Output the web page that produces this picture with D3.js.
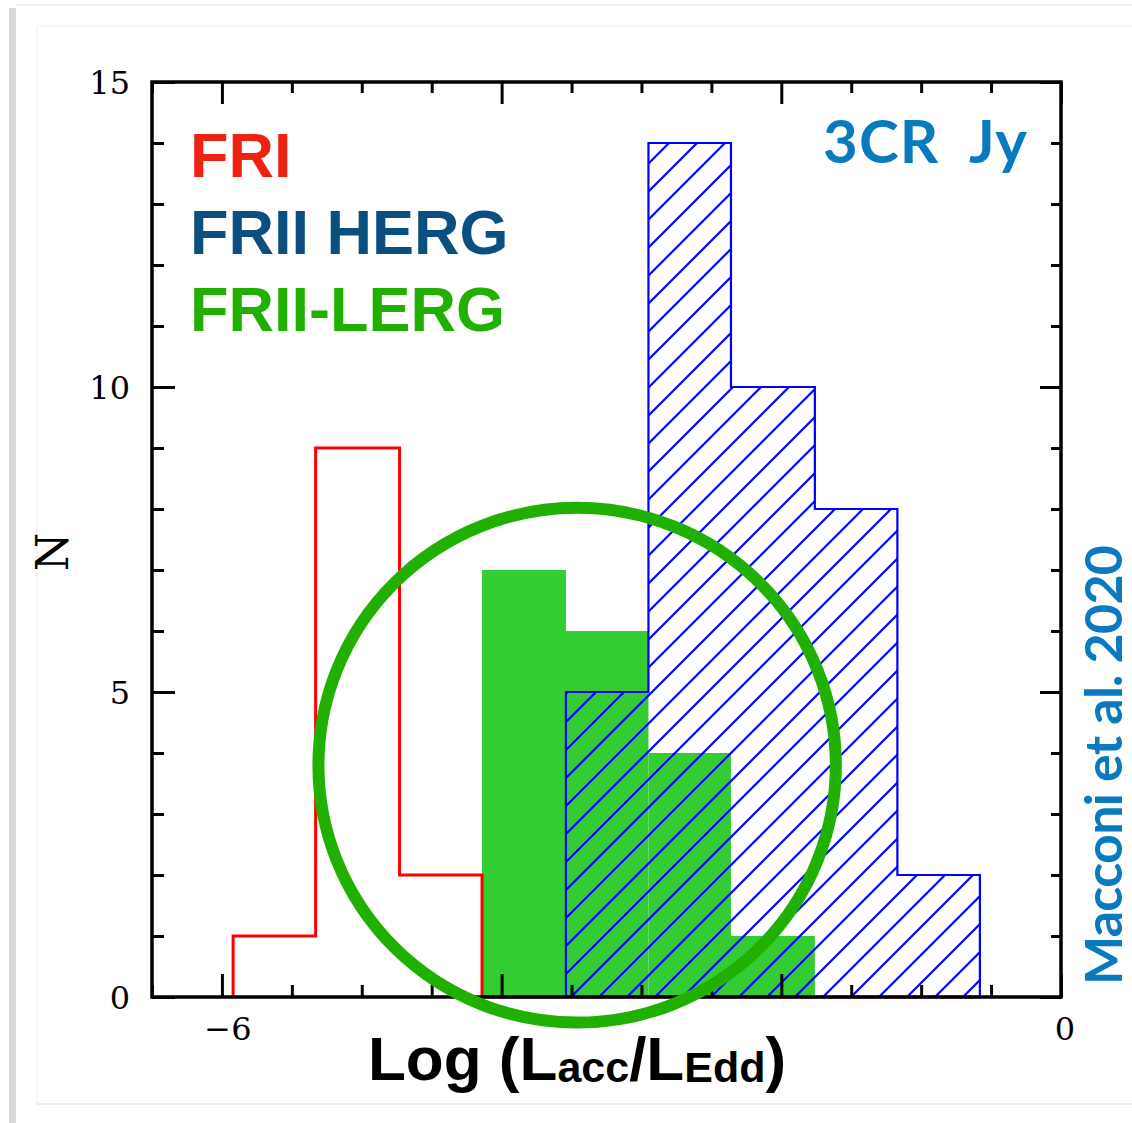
<!DOCTYPE html>
<html>
<head>
<meta charset="utf-8">
<script src="https://cdn.jsdelivr.net/npm/d3@7"></script>
<style>
  html, body { margin: 0; padding: 0; background: #fff; }
  svg { display: block; }
</style>
</head>
<body>
<div class="graph"></div>
<script>
// bin edges in Log(Lacc/LEdd)
var binEdges = [-5.92, -5.33, -4.73, -4.14, -3.54, -2.95, -2.36, -1.76, -1.17, -0.58];

// counts per bin
var friCounts  = [1, 9, 2, 0, 0, 0, 0, 0, 0];
var lergCounts = [0, 0, 0, 7, 6, 4, 1, 0, 0];
var hergCounts = [0, 0, 0, 0, 5, 14, 10, 8, 2];

var xLabels = [-6, 0];
var yLabels = [0, 5, 10, 15];
var legendNames = ['FRI', 'FRII HERG', 'FRII-LERG'];
var legendColors = ['#ee2211', '#0a4f80', '#22b000'];

// highlighted region (centre and half-widths, data units)
var ring = { cx: -3.46, cy: 3.8, rx: 1.85, ry: 4.22 };

var width = 1132,
    height = 1123;

var x = d3.scaleLinear()
    .domain([-6.5, 0])
    .range([152, 1061]);

var y = d3.scaleLinear()
    .domain([0, 15])
    .range([997, 82]);

var svg = d3.select('.graph').append('svg')
    .attr('width', width)
    .attr('height', height);

// faint page frame
var frame = svg.append('g');
frame.append('rect').attr('x', 9).attr('y', 8).attr('width', 7).attr('height', height)
    .attr('fill', '#d8d8d8');
frame.append('line').attr('x1', 16).attr('x2', width).attr('y1', 5).attr('y2', 5)
    .attr('stroke', '#efefef').attr('stroke-width', 2);
frame.append('line').attr('x1', 37).attr('x2', width).attr('y1', 26).attr('y2', 26)
    .attr('stroke', '#f2f2f2').attr('stroke-width', 1.5);
frame.append('line').attr('x1', 37).attr('x2', 37).attr('y1', 26).attr('y2', 1104)
    .attr('stroke', '#f2f2f2').attr('stroke-width', 1.5);
frame.append('line').attr('x1', 37).attr('x2', width).attr('y1', 1104).attr('y2', 1104)
    .attr('stroke', '#e6e6e6').attr('stroke-width', 1.5);

// hatch pattern
var defs = svg.append('defs');
defs.append('pattern')
    .attr('id', 'hatch')
    .attr('patternUnits', 'userSpaceOnUse')
    .attr('width', 28)
    .attr('height', 28)
    .append('path')
    .attr('d', 'M0,28 L28,0 M-7,7 L7,-7 M21,35 L35,21')
    .attr('stroke', '#0000ff')
    .attr('stroke-width', 2.2);

function stepPoints(counts) {
    var pts = [[binEdges[0], 0]];
    counts.forEach(function (c, i) {
        pts.push([binEdges[i], c]);
        pts.push([binEdges[i + 1], c]);
    });
    pts.push([binEdges[counts.length], 0]);
    return pts;
}

var line = d3.line()
    .x(function (d) { return x(d[0]); })
    .y(function (d) { return y(d[1]); });

// LERG filled bars
svg.append('g').selectAll('rect')
    .data(lergCounts.map(function (c, i) { return { x0: binEdges[i], x1: binEdges[i + 1], n: c }; })
        .filter(function (d) { return d.n > 0; }))
    .enter().append('rect')
    .attr('x', function (d) { return x(d.x0); })
    .attr('width', function (d) { return x(d.x1) - x(d.x0); })
    .attr('y', function (d) { return y(d.n); })
    .attr('height', function (d) { return y(0) - y(d.n); })
    .attr('fill', '#33cc33');

// HERG hatched
var hergPts = stepPoints(hergCounts).filter(function (p, i, a) { return true; });
svg.append('path')
    .datum(stepPoints(hergCounts))
    .attr('d', line)
    .attr('fill', 'url(#hatch)')
    .attr('stroke', '#0000ff')
    .attr('stroke-width', 2.2);

// FRI outline
svg.append('path')
    .datum(stepPoints(friCounts))
    .attr('d', line)
    .attr('fill', 'none')
    .attr('stroke', '#ff0000')
    .attr('stroke-width', 3);

// axes
function addAxis(axisFn, scale, ticks, size, transform, labels) {
    var a = axisFn(scale).tickValues(ticks).tickSize(size).tickPadding(0);
    if (!labels) a.tickFormat('');
    var g = svg.append('g').attr('transform', transform).call(a);
    g.select('.domain').remove();
    g.selectAll('.tick line').attr('stroke', '#000').attr('stroke-width', 3);
    return g;
}

var majorX = d3.range(-6, 0.01, 2),
    minorX = d3.range(-6.5, 0.01, 0.5).filter(function (v) { return majorX.indexOf(v) < 0; }),
    majorY = d3.range(0, 15.01, 5),
    minorY = d3.range(0, 15.01, 1).filter(function (v) { return v % 5 !== 0; });

addAxis(d3.axisBottom, x, majorX, -23, 'translate(0,997)', false);
addAxis(d3.axisBottom, x, minorX, -12, 'translate(0,997)', false);
addAxis(d3.axisTop, x, majorX, -22, 'translate(0,82)', false);
addAxis(d3.axisTop, x, minorX, -11, 'translate(0,82)', false);
addAxis(d3.axisLeft, y, majorY, -23, 'translate(152,0)', false);
addAxis(d3.axisLeft, y, minorY, -12, 'translate(152,0)', false);
addAxis(d3.axisRight, y, majorY, -21, 'translate(1061,0)', false);
addAxis(d3.axisRight, y, minorY, -10, 'translate(1061,0)', false);

svg.append('rect')
    .attr('x', x(-6.5)).attr('y', y(15))
    .attr('width', x(0) - x(-6.5)).attr('height', y(0) - y(15))
    .attr('fill', 'none').attr('stroke', '#000').attr('stroke-width', 3.5);

// tick labels
var serif = '"DejaVu Serif", "Liberation Serif", serif';
svg.append('g').selectAll('text')
    .data(yLabels).enter().append('text')
    .attr('x', 130)
    .attr('y', function (d) { return y(d) + 12; })
    .attr('text-anchor', 'end')
    .attr('font-family', serif)
    .attr('font-size', 32)
    .text(function (d) { return d; });

svg.append('g').selectAll('text')
    .data(xLabels).enter().append('text')
    .attr('x', function (d) { return x(d) + (d < 0 ? 6 : 4); })
    .attr('y', 1040)
    .attr('text-anchor', 'middle')
    .attr('font-family', serif)
    .attr('font-size', 32)
    .text(function (d) { return d < 0 ? '\u2212' + Math.abs(d) : d; });

svg.append('text')
    .attr('transform', 'translate(68,552) rotate(-90)')
    .attr('text-anchor', 'middle')
    .attr('font-family', serif)
    .attr('font-size', 44)
    .text('N');

// x title
var sans = '"Liberation Sans", Arial, sans-serif';
var xt = svg.append('text')
    .attr('x', 368).attr('y', 1080)
    .attr('font-family', sans).attr('font-weight', 'bold')
    .attr('font-size', 62);
xt.append('tspan').text('Log (L');
xt.append('tspan').attr('font-size', 43).attr('dy', 2).text('acc');
xt.append('tspan').attr('dy', -2).text('/L');
xt.append('tspan').attr('font-size', 43).attr('dy', 2).text('Edd');
xt.append('tspan').attr('dy', -2).text(')');

// legend
svg.append('g').selectAll('text')
    .data(legendNames).enter().append('text')
    .attr('x', 190)
    .attr('y', function (d, i) { return 177 + i * 77; })
    .attr('font-family', sans).attr('font-weight', 'bold')
    .attr('font-size', 63)
    .attr('fill', function (d, i) { return legendColors[i]; })
    .text(function (d) { return d; });

svg.append('text')
    .attr('x', 823).attr('y', 163)
    .attr('font-family', 'Lato, "Open Sans", sans-serif').attr('font-weight', 'bold')
    .attr('font-size', 60)
    .attr('fill', '#0a7abf')
    .attr('textLength', 204)
    .attr('xml:space', 'preserve')
    .text('3CR  Jy');

svg.append('text')
    .attr('transform', 'translate(1122,985) rotate(-90)')
    .attr('font-family', 'Lato, "Open Sans", sans-serif').attr('font-weight', 'bold')
    .attr('font-size', 52)
    .attr('fill', '#0a7abf')
    .attr('textLength', 440)
    .text('Macconi et al. 2020');

// highlight ring
svg.append('ellipse')
    .attr('cx', x(ring.cx)).attr('cy', y(ring.cy))
    .attr('rx', x(ring.cx + ring.rx) - x(ring.cx))
    .attr('ry', y(ring.cy - ring.ry) - y(ring.cy))
    .attr('fill', 'none')
    .attr('stroke', '#22b000')
    .attr('stroke-width', 12);
</script>
</body>
</html>
